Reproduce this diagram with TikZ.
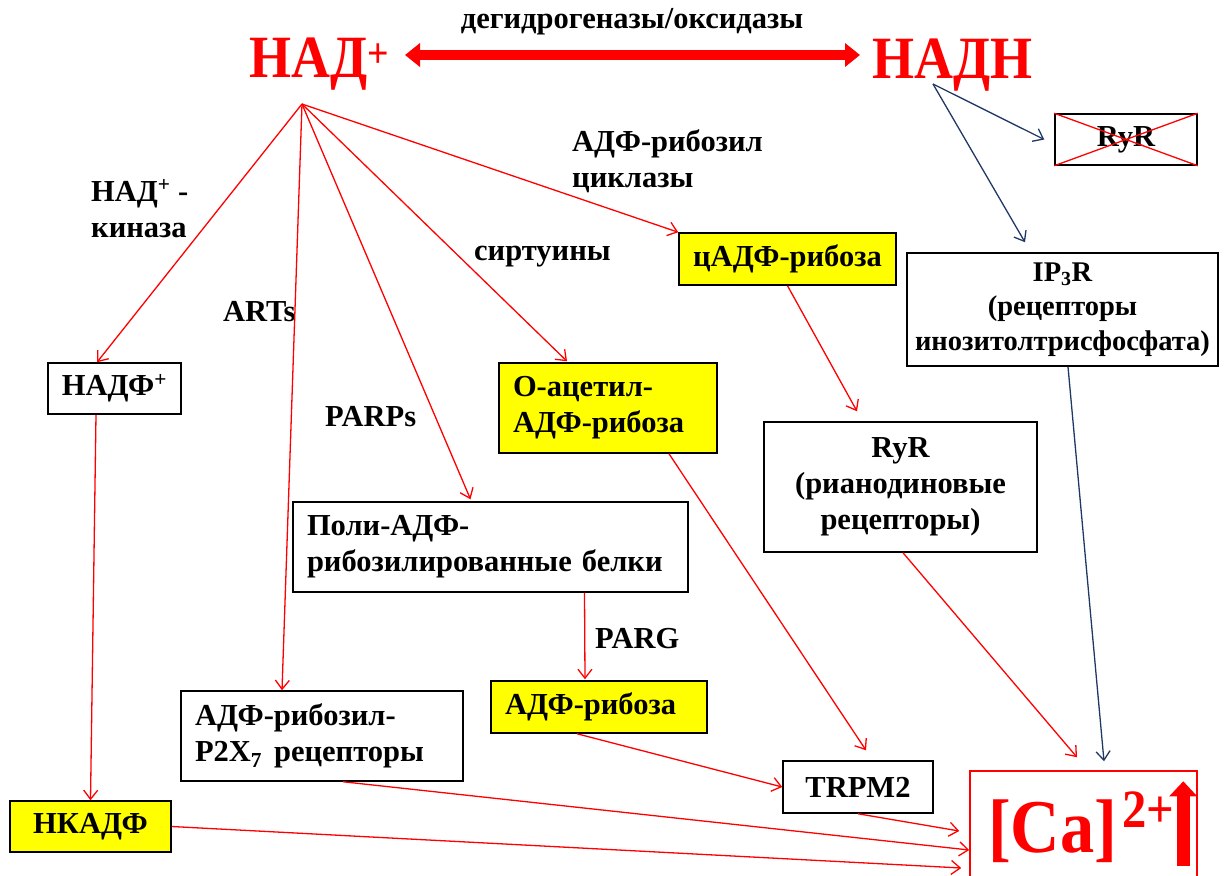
\documentclass[tikz,border=0pt]{standalone}
\usepackage{fontspec}
\setmainfont{Liberation Serif}
\newfontfamily\condserif{Liberation Serif}[FakeStretch=0.9]
\usetikzlibrary{arrows.meta,calc}
\definecolor{navy}{RGB}{32,56,100}
\definecolor{yel}{RGB}{255,255,0}
\newcommand\mybody{\fontsize{30.5}{36}\selectfont\bfseries}
\newcommand\mysmall{\fontsize{28.5}{34.5}\selectfont\bfseries}
\newcommand\mybig{\condserif\fontsize{60}{60}\selectfont\bfseries}
\newcommand\mycaf{\condserif\fontsize{76}{76}\selectfont\bfseries}
\begin{document}
\begin{tikzpicture}[x=1pt,y=-1pt,
  box/.style={draw=black, line width=1.5pt, fill=white, inner sep=0pt, font=\mybody, align=center},
  ybox/.style={box, fill=yel},
  lab/.style={inner sep=0pt, font=\mybody, align=left, anchor=base west},
  arr/.style={draw=red, line width=1.3pt, -{Straight Barb[length=9pt,width=14pt]}},
  narr/.style={arr, draw=navy},
  dblarr/.style={draw=red, line width=10pt, {Triangle[length=15pt,width=23pt]}-{Triangle[length=15pt,width=23pt]}}]
\useasboundingbox (0,0) rectangle (1227,876);

% top
\node[font=\mybig, text=red, anchor=base east, inner sep=0pt] (nadtop) at (390,77) {НАД\textsuperscript{+}};
\node[font=\mybig, text=red, anchor=base west, inner sep=0pt] (nadhtop) at (872,78) {НАДН};
\node[lab, anchor=base] (dehyd) at (632,28) {дегидрогеназы/оксидазы};
\draw[dblarr] ($(nadtop.base east)+(15,-22)$) -- ($(nadhtop.base west)+(-12,-23)$);

\coordinate (nadp) at (302,104);
\coordinate (nadh) at (933,84);

% boxes
\node[box, minimum width=133, minimum height=51] (nadf) at (114.5,388.5) {НАДФ\textsuperscript{+}};
\node[ybox, minimum width=161, minimum height=51] (nkadf) at (90.5,826.5) {НКАДФ};
\node[box, minimum width=282, minimum height=90, text width=254, align=left] (p2x7) at (322,736) {АДФ-рибозил-\\P2X\textsubscript{7}\hspace{12pt}рецепторы};
\node[box, minimum width=395, minimum height=90, text width=367, align=left] (poly) at (490.5,547) {Поли-АДФ-\\рибозилированные белки};
\node[ybox, minimum width=218, minimum height=90, text width=190, align=left] (oacet) at (608,408) {О-ацетил-\\АДФ-рибоза};
\node[ybox, minimum width=217, minimum height=52] (cadp) at (787.5,259) {цАДФ-рибоза};
\node[box, minimum width=273, minimum height=130] (ryr) at (900.5,487) {RyR\\(рианодиновые\\рецепторы)};
\node[box, font=\mysmall, minimum width=311, minimum height=113] (ip3r) at (1062.5,309.5) {IP\textsubscript{3}R\\(рецепторы\\инозитолтрисфосфата)};
\node[box, minimum width=142, minimum height=51] (ryrx) at (1126,139.5) {RyR};
\draw[red, line width=1.3pt] (ryrx.north west) -- (ryrx.south east) (ryrx.south west) -- (ryrx.north east);
\node[ybox, minimum width=216, minimum height=52, text width=188, align=left] (adpr) at (599,707) {АДФ-рибоза};
\node[box, minimum width=150, minimum height=52] (trpm2) at (858,787) {TRPM2};
\node[draw=red, line width=1.5pt, minimum width=227, minimum height=120, inner sep=0pt] (ca) at (1083.5,831) {};
\node[font=\mycaf, text=red, anchor=base west, inner sep=0pt] (catext) at (988,852) {[Ca]\hspace{5pt}\raisebox{25pt}{\fontsize{54}{54}\selectfont 2+}};
\draw[red, line width=13pt, -{Triangle[length=15pt,width=27pt]}] ($(ca.north east)+(-14.5,96)$) -- ($(ca.north east)+(-14.5,11)$);

% labels
\node[lab] (kin) at (91,237) {НАД\textsuperscript{+} -\\киназа};
\node[lab] (arts) at (223,321) {ARTs};
\node[lab] (parps) at (325,426) {PARPs};
\node[lab] (sirt) at (474,260) {сиртуины};
\node[lab] (cycl) at (572,187) {АДФ-рибозил\\циклазы};
\node[lab] (parg) at (595,648) {PARG};

% connectors
\draw[arr] (nadp) -- ($(nadf.north)+(-17.5,0)$);
\draw[arr] (nadp) -- ($(p2x7.north)+(-40,0)$);
\draw[arr] (nadp) -- ($(poly.north)+(-20,-2)$);
\draw[arr] (nadp) -- ($(oacet.north)+(-41,-1)$);
\draw[arr] (nadp) -- (cadp.north west);
\draw[arr] ($(nadf.south)+(-18.5,0)$) -- (nkadf.north);
\draw[arr] (cadp.south) -- ($(ryr.north)+(-43.5,-10)$);
\draw[arr] ($(ryr.south)+(2.5,0)$) -- ($(ca.north)+(-6.5,-13)$);
\draw[arr] ($(oacet.south)+(61,0)$) -- ($(trpm2.north)+(8,-10)$);
\draw[arr] ($(poly.south)+(94,0)$) -- ($(adpr.north)+(-14,-1)$);
\draw[arr] ($(adpr.south)+(-22,0)$) -- (trpm2.west);
\draw[arr] (trpm2.south) -- ($(ca.west)+(-10,0)$);
\draw[arr] ($(p2x7.south)+(21,0)$) -- ($(ca.west)+(0,19)$);
\draw[arr] (nkadf.east) -- ($(ca.west)+(-8,37)$);
\draw[narr] (nadh) -- ($(ryrx.west)+(-10,0)$);
\draw[narr] (nadh) -- ($(ip3r.north)+(-37.5,-10)$);
\draw[narr] ($(ip3r.south)+(5.5,0)$) -- ($(ca.north)+(20.5,-9)$);
\end{tikzpicture}
\end{document}
